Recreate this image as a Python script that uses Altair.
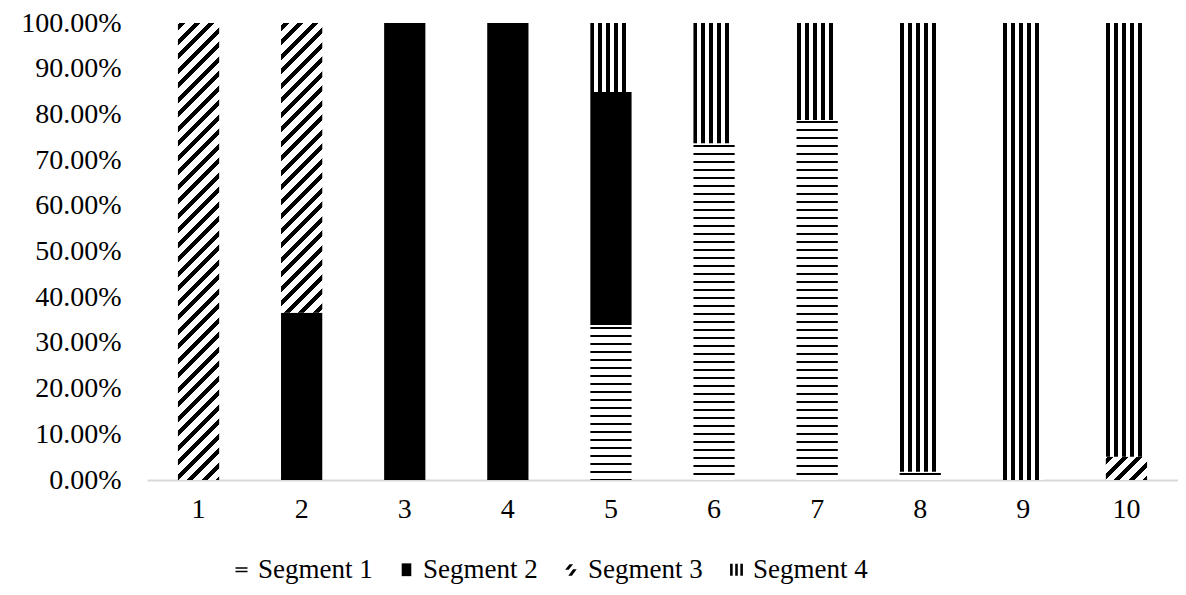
import altair as alt
import pandas as pd

# ---- data ----
categories = [1, 2, 3, 4, 5, 6, 7, 8, 9, 10]
segments = ["Segment 1", "Segment 2", "Segment 3", "Segment 4"]
seg1 = [0, 0, 0, 0, 0.339, 0.737, 0.788, 0.018, 0, 0]
seg2 = [0, 0.366, 1, 1, 0.510, 0, 0, 0, 0, 0]
seg3 = [1, 0.634, 0, 0, 0, 0, 0, 0, 0, 0.051]
seg4 = [0, 0, 0, 0, 0.151, 0.263, 0.212, 0.982, 1, 0.949]
y_ticks = [0, 0.1, 0.2, 0.3, 0.4, 0.5, 0.6, 0.7, 0.8, 0.9, 1.0]

series = [seg1, seg2, seg3, seg4]
rows = []
for i, c in enumerate(categories):
    for k, (s, vals) in enumerate(zip(segments, series)):
        rows.append({"cat": c, "seg": s, "order": k, "value": vals[i]})
df = pd.DataFrame(rows)

# ---- layout / style ----
W, H = 1031, 457
PAD_INNER = 0.6
BAR_W = W / len(categories) * (1 - PAD_INNER)
FONT = "Liberation Serif"
BLACK, WHITE = "#000000", "#ffffff"


def stops_from_bands(bands, total):
    stops = [alt.GradientStop(color=WHITE, offset=0)]
    for a, b in bands:
        a = min(a / total, 1.0)
        b = min(b / total, 1.0)
        stops += [alt.GradientStop(color=WHITE, offset=a),
                  alt.GradientStop(color=BLACK, offset=a),
                  alt.GradientStop(color=BLACK, offset=b),
                  alt.GradientStop(color=WHITE, offset=b)]
    stops.append(alt.GradientStop(color=WHITE, offset=1))
    return stops


def vstripes(w, period=8.0, thick=4.0):
    bands, x = [], 0.0
    while x + thick <= w - 2:
        bands.append((x, x + thick))
        x += period
    return alt.Gradient(gradient="linear", x1=0, y1=0, x2=1, y2=0,
                        stops=stops_from_bands(bands, w))


def hstripes(h, period=8.0, thick=2.0, start=1.5):
    bands, y = [], start
    while y < h:
        bands.append((y, min(y + thick, h)))
        y += period
    return alt.Gradient(gradient="linear", x1=0, y1=0, x2=0, y2=1,
                        stops=stops_from_bands(bands, h))


def diagstripes(w, h, period=14.5, thick=6.0):
    tot = w + h
    s = tot / (w * w + h * h)
    bands, t = [], 2.0
    while t < tot:
        bands.append((t, min(t + thick, tot)))
        t += period
    return alt.Gradient(gradient="linear", x1=0, y1=0, x2=w * s, y2=h * s,
                        stops=stops_from_bands(bands, tot))


def fill_for(seg_idx, value):
    h = value * H
    if seg_idx == 0:
        return hstripes(h)
    if seg_idx == 1:
        return BLACK
    if seg_idx == 2:
        return diagstripes(BAR_W, h)
    return vstripes(BAR_W)


x_enc = alt.X("cat:O", sort=categories,
              scale=alt.Scale(paddingInner=PAD_INNER, paddingOuter=PAD_INNER / 2),
              axis=alt.Axis(title=None, labelAngle=0, labelPadding=15,
                            domain=True, domainColor="#d9d9d9", domainWidth=2,
                            ticks=False, grid=False,
                            labelFont=FONT, labelFontSize=28, labelColor=BLACK))
y_scale = alt.Scale(domain=[0, 1], nice=False, zero=True)
y_axis = alt.Axis(title=None, values=y_ticks, format=".2%", labelPadding=26,
                  domain=False, ticks=False, grid=False,
                  labelFont=FONT, labelFontSize=28, labelColor=BLACK)

base = alt.Chart(df).transform_stack(
    stack="value", groupby=["cat"], as_=["y0", "y1"],
    sort=[alt.SortField("order", order="ascending")])

layers = []
for i, c in enumerate(categories):
    for k, vals in enumerate(series):
        v = vals[i]
        if v <= 0:
            continue
        layer = base.transform_filter(
            (alt.datum.cat == c) & (alt.datum.order == k)
        ).mark_bar(fill=fill_for(k, v), strokeWidth=0).encode(
            x=x_enc,
            y=alt.Y("y0:Q", scale=y_scale, axis=y_axis),
            y2="y1:Q",
        )
        layers.append(layer)

# legend carrier (invisible points; legend symbols are custom paths)
legend_paths = [
    "M-0.75,-0.3H0.75V-0.14H-0.75Z M-0.75,0.14H0.75V0.3H-0.75Z",
    "M-0.6,-0.8H0.6V0.8H-0.6Z",
    "M-0.8,0.0L-0.25,-0.7L0.2,-0.7L-0.35,0.0Z M-0.4,0.75L0.2,-0.05L0.65,-0.05L0.05,0.75Z",
    "M-0.8,-0.75H-0.48V0.75H-0.8Z M-0.16,-0.75H0.16V0.75H-0.16Z M0.48,-0.75H0.8V0.75H0.48Z",
]
legend_layer = alt.Chart(df).mark_point(filled=True, opacity=0, size=256).encode(
    x=x_enc,
    y=alt.Y("value:Q", scale=y_scale, axis=y_axis),
    shape=alt.Shape("seg:N",
                    scale=alt.Scale(domain=segments, range=legend_paths),
                    legend=alt.Legend(title=None, orient="none", direction="horizontal",
                                      legendX=81, legendY=533,
                                      symbolSize=256, symbolFillColor=BLACK,
                                      symbolStrokeWidth=0, symbolOpacity=1,
                                      labelFont=FONT, labelFontSize=27,
                                      labelColor=BLACK, labelOffset=3,
                                      columnPadding=20, labelLimit=300)),
    color=alt.value(BLACK),
)

chart = alt.layer(*layers, legend_layer).properties(
    width=W, height=H,
    background="white",
    autosize=alt.AutoSizeParams(type="none"),
    padding={"left": 139, "top": 15, "right": 0, "bottom": 107},
).configure_view(stroke=None)

chart.save("out.html", embed_options={"renderer": "svg", "actions": False})
